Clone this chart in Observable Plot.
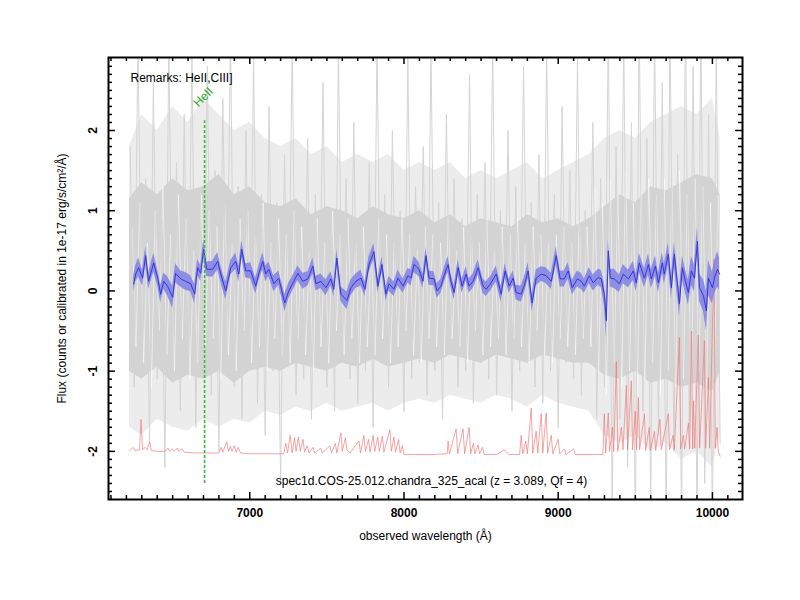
<!DOCTYPE html>
<html><head><meta charset="utf-8">
<script src="https://cdn.jsdelivr.net/npm/d3@7"></script>
<script src="https://cdn.jsdelivr.net/npm/@observablehq/plot@0.6"></script>
<style>
body{margin:0;background:#fff;}
#chart svg{display:block;}
</style>
</head><body><div id="chart"></div>
<script>
// ---------- data ----------
const xMajor = [7000, 8000, 9000, 10000];
const xMinor = [6100,6200,6300,6400,6500,6600,6700,6800,6900,7100,7200,7300,7400,7500,7600,7700,7800,7900,8100,8200,8300,8400,8500,8600,8700,8800,8900,9100,9200,9300,9400,9500,9600,9700,9800,9900,10100];
const yMajor = [-2, -1, 0, 1, 2];
const yMinor = [-2.5,-2.4,-2.3,-2.2,-2.1,-1.9,-1.8,-1.7,-1.6,-1.5,-1.4,-1.3,-1.2,-1.1,-0.9,-0.8,-0.7,-0.6,-0.5,-0.4,-0.3,-0.2,-0.1,0.1,0.2,0.3,0.4,0.5,0.6,0.7,0.8,0.9,1.1,1.2,1.3,1.4,1.5,1.6,1.7,1.8,1.9,2.1,2.2,2.3,2.4,2.5,2.6,2.7,2.8];

// raw (unsmoothed) spectrum, sampled every 25 Å from 6225 Å
const grayStart = 6225, grayStep = 25;
const grayFlux = [
 1.8,-1.2,3.2,-0.9,1.4,-1.9,2.6,-1.1,0.9,-2.2,3.1,-0.8,1.6,-1.5,2.2,-1.0,3.0,-1.7,1.1,-0.9,
 2.8,-1.3,1.5,-2.0,2.4,-0.7,3.2,-1.2,1.3,-1.6,2.0,-0.9,2.9,-1.4,1.2,-1.8,
 2.3,-1.0,1.1,-2.4,1.7,-0.8,3.1,-1.3,0.9,-1.1,1.9,-1.6,1.2,-0.9,2.6,-1.2,1.0,-1.5,3.0,-0.8,
 1.4,-1.1,2.1,-1.4,0.9,-1.0,1.6,-1.7,3.1,-0.9,1.2,-1.2,2.0,-0.8,1.0,-1.5,2.9,-1.1,1.3,-0.9,
 1.8,-1.3,3.0,-1.0,1.1,-1.6,2.2,-0.8,1.4,-1.2,0.9,-1.0,2.7,-1.4,1.2,-0.9,1.6,-1.1,3.1,-1.3,
 1.0,-0.8,2.0,-1.5,1.3,-1.0,2.8,-0.9,1.1,-1.2,1.7,-1.4,3.0,-1.0,1.2,-1.7,2.3,-0.9,1.5,-1.1,
 2.9,-1.3,1.0,-0.9,2.1,-1.6,1.4,-1.2,
 3.3,-2.8,1.8,-1.6,3.2,-2.2,2.1,-3.0,3.4,-1.5,1.9,-2.7,3.3,-1.8,2.6,-3.0,3.4,-2.0,1.7,-2.9,
 3.5,-1.7,2.8,-3.0,3.4,-2.4,2.2,-2.9,3.0,-1.9
];
// second (lighter) exposure, sampled every 25 Å from 6237 Å
const gray2Start = 6237, gray2Step = 25;
const gray2Flux = [
 0.8,-0.7,1.1,-0.9,0.6,-1.2,1.0,-0.5,1.3,-0.8,0.7,-1.0,1.2,-0.6,0.9,-1.1,0.5,-0.9,1.2,-0.7,
 1.0,-0.6,0.8,-1.1,1.1,-0.8,0.6,-1.0,0.9,-0.5,1.0,-0.9,0.7,-0.7,1.1,-1.0,0.6,-0.6,0.9,-0.8,
 0.7,-0.9,1.0,-0.6,0.8,-0.8,0.5,-1.0,0.9,-0.7,0.6,-0.9,1.0,-0.5,0.7,-0.8,0.9,-0.6,0.6,-0.9,
 0.8,-0.7,0.5,-0.8,0.9,-0.6,0.7,-0.9,0.6,-0.7,0.9,-0.5,0.7,-0.8,0.5,-0.9,0.8,-0.6,0.7,-0.7,
 0.6,-0.8,0.9,-0.6,0.5,-0.7,0.8,-0.9,0.7,-0.5,0.6,-0.8,0.9,-0.7,0.5,-0.6,0.8,-0.8,0.7,-0.6,
 0.9,-0.7,0.6,-0.9,0.8,-0.5,0.7,-0.8,0.6,-0.9,0.7,-0.6,0.8,-0.7,0.6,-0.8,0.9,-0.6,0.8,-0.7,
 1.3,-1.0,1.1,-1.3,1.4,-0.9,1.2,-1.2,1.5,-1.0,1.1,-1.3,1.3,-1.1,1.4,-0.9,1.2,-1.3,1.4,-1.0,
 1.3,-1.2,1.5,-1.1,1.2,-1.3,1.4,-1.0,1.3,-1.2,1.1,-1.1,1.2,-0.9
];
// envelopes of the dense grey noise (every 100 Å)
const envWave = [6220,6300,6400,6500,6600,6700,6800,6900,7000,7100,
 7200,7300,7400,7500,7600,7700,7800,7900,8000,8100,
 8200,8300,8400,8500,8600,8700,8800,8900,9000,9100,
 9200,9300,9400,9500,9600,9700,9800,9900,10000,10050];
const innerHi = [1.15,1.35,1.2,1.4,1.25,1.3,1.45,1.2,1.3,1.1,
 1.05,1.15,0.95,1.05,1.0,0.9,1.05,0.95,0.9,1.0,
 0.85,0.95,0.8,0.9,0.85,0.8,0.95,0.85,0.9,0.8,
 0.9,1.05,1.2,1.1,1.3,1.25,1.35,1.45,1.4,1.2];
const innerLo = [-1.0,-1.1,-0.95,-1.15,-1.05,-1.1,-1.0,-1.15,-1.0,-0.95,
 -1.0,-0.9,-0.95,-1.0,-0.9,-0.95,-0.85,-0.95,-0.9,-0.85,
 -0.9,-0.8,-0.85,-0.9,-0.8,-0.85,-0.9,-0.8,-0.85,-0.9,
 -0.9,-1.05,-1.1,-1.0,-1.15,-1.1,-1.2,-1.15,-1.25,-1.0];
const outerHi = [1.8,2.2,2.0,2.3,2.1,2.4,2.2,2.0,2.1,1.9,
 1.8,1.9,1.7,1.8,1.6,1.7,1.6,1.7,1.5,1.6,
 1.5,1.6,1.4,1.5,1.4,1.5,1.6,1.4,1.5,1.6,
 1.7,1.9,2.0,1.9,2.1,2.2,2.3,2.2,2.4,1.9];
const outerLo = [-1.7,-1.8,-1.6,-1.7,-1.75,-1.6,-1.7,-1.6,-1.65,-1.5,
 -1.55,-1.45,-1.5,-1.4,-1.5,-1.45,-1.4,-1.5,-1.4,-1.35,
 -1.4,-1.3,-1.35,-1.4,-1.3,-1.35,-1.45,-1.3,-1.4,-1.45,
 -1.5,-1.8,-1.9,-1.8,-2.0,-1.9,-2.1,-2.0,-2.2,-1.8];

// smoothed spectrum (blue) and its uncertainty
const blueWave = [
 6247,6260,6279,6305,6325,6344,6377,6403,6422,6442,6467,6500,6519,6552,6584,6617,6643,6662,6682,6701,
 6721,6760,6792,6812,6844,6877,6909,6929,6948,6974,7006,7039,7058,7084,7104,7123,7156,7188,7227,7253,
 7286,7312,7344,7377,7409,7429,7461,7494,7526,7545,7565,7591,7630,7656,7688,7721,
 7747,7773,7805,7831,7857,7883,7903,7935,7961,7994,8026,8046,8065,8097,8123,8143,8162,8195,8214,8240,
 8260,8286,8305,8325,8351,8377,8403,8422,8448,8481,8513,8533,8565,8598,8630,8656,8682,8708,8727,8760,
 8779,8805,8831,8857,8890,8922,8955,8987,9013,9039,9065,9091,9124,9150,9169,9201,9227,
 9260,9279,9299,9312,9325,9338,9364,9396,9422,9455,9487,9506,9526,9559,9585,9604,9630,9650,9675,9688,
 9714,9734,9753,9773,9786,9805,9825,9844,9864,9883,9903,9916,9942,9961,9974,10000,10013,10033,10046
];
const blueFlux = [
 0.09,0.21,0.29,0.16,0.44,0.12,0.35,0.16,-0.04,0.12,0.06,-0.08,0.22,0.15,0.12,0.09,-0.04,0.29,0.22,0.52,
 0.27,0.27,0.37,0.21,0.0,0.29,0.37,0.21,0.52,0.25,0.25,0.06,0.21,0.37,0.21,0.27,0.09,0.16,-0.15,0.0,
 0.12,0.22,0.12,0.15,0.31,0.09,0.12,0.04,0.15,0.02,0.41,-0.04,-0.12,0.04,0.12,0.16,
 0.02,0.33,0.49,0.06,0.33,-0.04,0.09,0.02,0.16,0.06,0.19,0.16,0.33,0.27,0.12,0.44,0.16,0.15,0.0,0.06,
 0.19,0.33,0.12,-0.02,0.29,0.06,0.21,0.06,0.12,0.29,0.06,0.02,0.10,0.21,-0.04,0.25,0.06,0.16,-0.02,-0.04,
 0.06,0.25,-0.15,0.16,0.21,0.19,0.12,0.44,0.15,0.15,0.25,0.04,0.15,0.12,0.06,0.19,0.10,
 0.17,0.15,-0.04,-0.37,0.50,0.16,0.15,0.09,0.21,0.15,0.25,0.10,0.35,0.16,0.33,0.15,0.31,0.10,0.35,0.21,
 0.46,0.04,0.46,0.09,-0.16,0.29,0.12,-0.02,0.25,0.16,0.62,0.04,-0.06,-0.25,0.16,0.04,0.16,0.27,0.21
];
const blueErr = [
 0.10,0.10,0.12,0.10,0.11,0.10,0.12,0.10,0.11,0.10,0.12,0.14,0.12,0.10,0.11,0.10,0.12,0.10,0.10,0.12,
 0.09,0.10,0.11,0.10,0.11,0.09,0.10,0.10,0.11,0.09,0.10,0.10,0.09,0.11,0.10,0.09,0.10,0.09,0.11,0.10,
 0.09,0.09,0.10,0.09,0.10,0.09,0.09,0.10,0.09,0.09,0.10,0.09,0.11,0.10,0.09,0.10,
 0.09,0.10,0.10,0.09,0.10,0.09,0.09,0.09,0.10,0.09,0.09,0.10,0.10,0.09,0.09,0.10,0.09,0.09,0.09,0.09,
 0.09,0.10,0.09,0.09,0.10,0.09,0.09,0.09,0.09,0.10,0.09,0.09,0.09,0.10,0.10,0.09,0.09,0.09,0.09,0.10,
 0.10,0.10,0.11,0.10,0.09,0.10,0.10,0.11,0.10,0.10,0.10,0.09,0.10,0.10,0.09,0.10,0.10,
 0.10,0.11,0.14,0.22,0.14,0.11,0.12,0.11,0.12,0.11,0.12,0.11,0.12,0.12,0.13,0.12,0.13,0.12,0.13,0.13,
 0.14,0.14,0.15,0.15,0.16,0.15,0.15,0.16,0.18,0.17,0.18,0.17,0.20,0.25,0.22,0.20,0.20,0.22,0.20
];

// noise spectrum (red), offset near -2
const redWave = [
 6222,6245,6255,6285,6295,6305,6320,6335,6351,6362,6400,6450,6470,6480,6500,6510,6530,6540,6560,6575,
 6650,6800,6815,6825,6850,6862,6875,6885,6900,6912,6925,6940,7000,7220,7234,7245,7262,7275,7290,7300,
 7315,7328,7345,7355,7372,7385,7410,7420,7460,7470,7520,7530,7555,7565,7591,7600,7620,7630,7650,7708,
 7718,7740,7750,7770,7780,7800,7810,7830,7840,7860,7870,7909,7918,7935,7945,7965,7975,7990,8000,8100,
 8190,8280,8286,8295,8338,8348,8383,8393,8422,8432,8450,8460,8480,8490,8510,8520,8600,8650,8680,8750,
 8760,8770,8790,8800,8825,8835,8857,8867,8890,8900,8922,8932,8955,8965,9000,9010,9040,9050,9100,9110,
 9290,9299,9308,9325,9333,9352,9360,9377,9386,9410,9420,9442,9450,9474,9482,9500,9508,9520,9528,9559,
 9567,9590,9598,9624,9632,9660,9668,9714,9722,9745,9753,9786,9794,9812,9820,9844,9852,9864,9872,9877,
 9885,9909,9917,9948,9956,9974,9982,10010,10018,10030,10038,10050
];
const redFlux = [
 -1.99,-1.95,-1.99,-1.98,-1.60,-1.98,-1.95,-1.98,-1.88,-1.99,-2.00,-2.00,-1.96,-2.00,-1.97,-2.00,-1.96,-2.00,-1.97,-2.01,
 -2.02,-2.02,-1.95,-2.01,-1.88,-2.00,-1.94,-2.00,-1.93,-2.01,-1.95,-2.02,-2.03,-2.03,-1.90,-2.02,-1.80,-2.02,-1.83,-2.00,
 -1.82,-2.00,-1.85,-2.01,-1.93,-2.02,-1.95,-2.02,-1.96,-2.02,-1.93,-2.02,-1.90,-2.02,-1.77,-2.00,-1.83,-1.98,-2.02,-1.87,
 -2.02,-1.80,-2.00,-1.85,-2.01,-1.80,-2.00,-1.82,-2.00,-1.81,-2.01,-1.73,-2.00,-1.82,-2.01,-1.85,-2.02,-1.93,-2.04,-2.04,
 -2.04,-2.03,-1.87,-2.03,-1.72,-2.03,-1.72,-2.03,-1.70,-2.03,-1.90,-2.03,-1.92,-2.03,-1.95,-2.04,-2.04,-1.98,-2.04,-2.04,
 -1.80,-2.03,-1.87,-2.03,-1.46,-2.02,-1.75,-2.02,-1.53,-2.02,-1.52,-2.02,-1.80,-2.03,-1.85,-2.03,-1.97,-2.04,-1.97,-2.04,
 -2.04,-1.53,-2.02,-1.52,-2.00,-1.70,-2.00,-0.88,-2.00,-1.70,-1.98,-1.18,-1.98,-1.12,-1.98,-1.50,-1.98,-1.33,-1.98,-1.53,
 -1.99,-1.70,-1.99,-1.75,-1.99,-1.60,-1.98,-1.53,-1.98,-1.80,-1.98,-0.58,-1.97,-1.80,-1.97,-1.65,-1.97,-0.50,-1.97,-1.37,
 -1.96,-0.55,-1.96,-0.62,-1.96,-1.08,-1.96,0.40,-1.96,-1.70,-2.00,-2.06
];

// identified line
const lineNames = ["HeII"];
const lineWaves = [6707];

const remarks = "Remarks: HeII,CIII]";
const caption = "spec1d.COS-25.012.chandra_325_acal (z = 3.089, Qf = 4)";

// ---------- tables ----------
const gray = grayFlux.map((f, i) => ({w: grayStart + i * grayStep, f}));
const gray2 = gray2Flux.map((f, i) => ({w: gray2Start + i * gray2Step, f}));
const env = envWave.map((w, i) => ({w, ih: innerHi[i], il: innerLo[i], oh: outerHi[i], ol: outerLo[i]}));
const blue = blueWave.map((w, i) => ({w, f: blueFlux[i], e: blueErr[i]}));
const red = redWave.map((w, i) => ({w, f: redFlux[i]}));
const lines = lineNames.map((name, i) => ({name, w: lineWaves[i]}));

const xDom = [6084, 10195], yDom = [-2.6, 2.91];
const font = "'Liberation Sans', Arial, Helvetica, sans-serif";
// inward tick lengths expressed in data units (7 px major, 4 px minor)
const txMaj = 45, txMin = 26, tyMaj = 0.087, tyMin = 0.05;
const tk = {stroke: "#000", strokeWidth: 1.5};

const chart = Plot.plot({
  width: 800, height: 600,
  marginLeft: 108, marginRight: 58, marginTop: 57, marginBottom: 101,
  style: {fontFamily: font, fontSize: "12px", background: "#fff"},
  x: {domain: xDom, axis: null},
  y: {domain: yDom, axis: null},
  marks: [
    Plot.areaY(env, {x: "w", y1: "ol", y2: "oh", fill: "#ececec"}),
    Plot.areaY(env, {x: "w", y1: "il", y2: "ih", fill: "#d3d3d3"}),
    Plot.lineY(gray2, {x: "w", y: "f", stroke: "#fff", strokeOpacity: 0.6, strokeWidth: 0.9}),
    Plot.lineY(gray, {x: "w", y: "f", stroke: "#d4d4d4", strokeWidth: 1, clip: true}),
    Plot.lineY(red, {x: "w", y: "f", stroke: "#f07878", strokeOpacity: 0.85, strokeWidth: 0.8, clip: true}),
    Plot.areaY(blue, {x: "w", y1: d => d.f - d.e, y2: d => d.f + d.e, fill: "#7b7be6", fillOpacity: 0.8}),
    Plot.lineY(blue, {x: "w", y: "f", stroke: "#3636dc", strokeWidth: 1}),
    Plot.ruleX(lines, {x: "w", y1: -2.4, y2: 2.12, stroke: "#3db83d", strokeWidth: 1.6, strokeDasharray: "3,2"}),
    Plot.text(lines, {x: "w", y: 2.12, text: "name", rotate: -45, textAnchor: "start", dx: -9, dy: -16, fill: "#22a822", fontSize: 12}),
    Plot.text([remarks], {frameAnchor: "top-left", dx: 22, dy: 16, textAnchor: "start", fill: "#000"}),
    Plot.text([caption], {frameAnchor: "bottom", dx: 6, dy: -15, fill: "#000"}),
    // inward ticks on all four sides
    Plot.ruleX(xMinor, {x: d => d, y1: yDom[0], y2: yDom[0] + tyMin, ...tk}),
    Plot.ruleX(xMajor, {x: d => d, y1: yDom[0], y2: yDom[0] + tyMaj, ...tk}),
    Plot.ruleX(xMinor, {x: d => d, y1: yDom[1] - tyMin, y2: yDom[1], ...tk}),
    Plot.ruleX(xMajor, {x: d => d, y1: yDom[1] - tyMaj, y2: yDom[1], ...tk}),
    Plot.ruleY(yMinor, {y: d => d, x1: xDom[0], x2: xDom[0] + txMin, ...tk}),
    Plot.ruleY(yMajor, {y: d => d, x1: xDom[0], x2: xDom[0] + txMaj, ...tk}),
    Plot.ruleY(yMinor, {y: d => d, x1: xDom[1] - txMin, x2: xDom[1], ...tk}),
    Plot.ruleY(yMajor, {y: d => d, x1: xDom[1] - txMaj, x2: xDom[1], ...tk}),
    // tick labels and titles
    Plot.axisX(xMajor, {anchor: "bottom", tickSize: 0, tickPadding: 9, fontWeight: "bold", fontSize: 12, label: null, tickFormat: d => String(d)}),
    Plot.text(yMajor, {y: d => d, text: d => String(d), frameAnchor: "left", dx: -15, rotate: -90, textAnchor: "middle", fontWeight: "bold", fontSize: 12}),
    Plot.text(["observed wavelength (Å)"], {frameAnchor: "bottom", dy: 40, fontSize: 12}),
    Plot.text(["Flux (counts or calibrated in 1e-17 erg/s/cm²/Å)"], {frameAnchor: "left", dx: -46, rotate: -90, textAnchor: "middle", fontSize: 12}),
    Plot.frame({stroke: "#000", strokeWidth: 2})
  ]
});
document.getElementById("chart").appendChild(chart);
</script>
</body></html>
